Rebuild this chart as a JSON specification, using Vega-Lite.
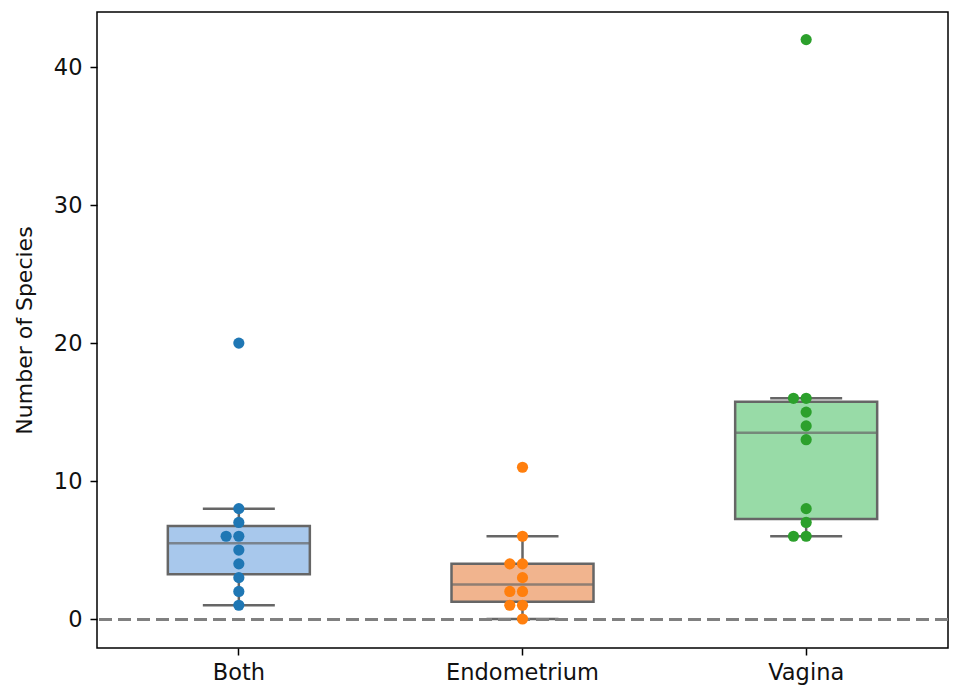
{
  "$schema": "https://vega.github.io/schema/vega-lite/v6.json",
  "autosize": "none",
  "padding": {"left": 97, "top": 12, "right": 7, "bottom": 41},
  "width": 851,
  "height": 636,
  "background": "white",
  "config": {
    "view": {"stroke": "black", "strokeWidth": 1.5},
    "font": "DejaVu Sans",
    "axis": {"grid": false, "domain": false, "tickColor": "black", "tickSize": 7, "tickWidth": 1.5, "labelFontSize": 22.5, "labelColor": "#111", "titleFontSize": 22, "titleFontWeight": "normal", "titleColor": "#111", "labelPadding": 6}
  },
  "data": {"values": [
    {"group": "Both", "species": 1}, {"group": "Both", "species": 2}, {"group": "Both", "species": 3},
    {"group": "Both", "species": 4}, {"group": "Both", "species": 5}, {"group": "Both", "species": 6},
    {"group": "Both", "species": 6}, {"group": "Both", "species": 7}, {"group": "Both", "species": 8},
    {"group": "Both", "species": 20},
    {"group": "Endometrium", "species": 0}, {"group": "Endometrium", "species": 1}, {"group": "Endometrium", "species": 1},
    {"group": "Endometrium", "species": 2}, {"group": "Endometrium", "species": 2}, {"group": "Endometrium", "species": 3},
    {"group": "Endometrium", "species": 4}, {"group": "Endometrium", "species": 4}, {"group": "Endometrium", "species": 6},
    {"group": "Endometrium", "species": 11},
    {"group": "Vagina", "species": 6}, {"group": "Vagina", "species": 6}, {"group": "Vagina", "species": 7},
    {"group": "Vagina", "species": 8}, {"group": "Vagina", "species": 13}, {"group": "Vagina", "species": 14},
    {"group": "Vagina", "species": 15}, {"group": "Vagina", "species": 16}, {"group": "Vagina", "species": 16},
    {"group": "Vagina", "species": 42}
  ]},
  "encoding": {
    "x": {"field": "group", "type": "nominal", "sort": ["Both", "Endometrium", "Vagina"],
      "scale": {"paddingInner": 0, "paddingOuter": 0},
      "axis": {"title": null, "labelAngle": 0}},
    "y": {"field": "species", "type": "quantitative",
      "scale": {"domain": [-2.1, 44.0], "nice": false, "zero": false},
      "axis": {"title": "Number of Species", "values": [0, 10, 20, 30, 40], "titlePadding": 17, "labelPadding": 8}}
  },
  "layer": [
    {
      "mark": {"type": "boxplot", "extent": 1.5, "size": 142,
        "box": {"stroke": "#666666", "strokeWidth": 2.5},
        "median": {"color": "#666666", "thickness": 2.5},
        "rule": {"color": "#666666", "strokeWidth": 2.5},
        "ticks": {"color": "#666666", "size": 72, "thickness": 2.5},
        "outliers": false},
      "encoding": {
        "color": {"field": "group", "type": "nominal", "legend": null,
          "scale": {"domain": ["Both", "Endometrium", "Vagina"], "range": ["#a8c8ec", "#f1b48e", "#98dba7"]}}
      }
    },
    {
      "mark": {"type": "rule", "color": "#808080", "strokeWidth": 2.2, "strokeDash": [13, 6]},
      "encoding": {"y": {"datum": 0}, "x": null}
    },
    {
      "transform": [
        {"window": [{"op": "row_number", "as": "dup"}], "groupby": ["group", "species"]},
        {"calculate": "1 - datum.dup", "as": "offset"}
      ],
      "mark": {"type": "circle", "opacity": 1, "size": 125},
      "encoding": {
        "xOffset": {"field": "offset", "type": "quantitative", "scale": {"domain": [-11.17, 11.17], "range": [0, 283.67]}},
        "color": {"field": "group", "type": "nominal", "legend": null,
          "scale": {"domain": ["Both", "Endometrium", "Vagina"], "range": ["#1f77b4", "#ff7f0e", "#2ca02c"]}}
      }
    }
  ],
  "resolve": {"scale": {"color": "independent"}}
}
